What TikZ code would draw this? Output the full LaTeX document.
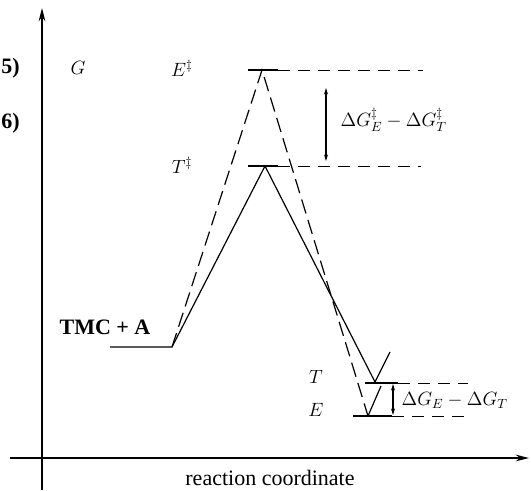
\documentclass[tikz,border=0pt]{standalone}
\usepackage{fontspec}
\setmainfont{Liberation Serif}
\usepackage{tikz}
\usetikzlibrary{arrows.meta, positioning}
\tikzset{
    axisline/.style={
        -{Stealth[length=10pt, width=5pt]}, line width=1pt, color=black
    },
    solidpath/.style={
        line width=0.9pt, color=black
    },
    dashpath/.style={
        line width=0.9pt, color=black, dash pattern=on 11pt off 5pt
    },
    levelline/.style={
        line width=0.7pt, color=black, dash pattern=on 9pt off 6pt
    },
    tickline/.style={
        line width=0.8pt, color=black
    },
    darr/.style={
        {Stealth[length=5pt, width=3pt]}-{Stealth[length=5pt, width=3pt]},
        line width=0.8pt, color=black
    },
    lbl/.style={
        font=\fontsize{14.5}{16}\selectfont, inner sep=1pt
    },
    txt/.style={
        font=\fontsize{16.5}{18}\selectfont, inner sep=1pt
    },
}

\begin{document}
\begin{tikzpicture}[x=0.75pt, y=-0.75pt]

    \useasboundingbox (0,0) rectangle (531,490);

    % ── Axes ──
    \coordinate (ybot) at (42,490);
    \coordinate (ytop) at (42,8);
    \coordinate (xleft) at (10,458);
    \coordinate (xright) at (529,458);
    \draw[axisline] (ybot) -- (ytop);
    \draw[axisline] (xleft) -- (xright);

    % ── Axis labels ──
    \node[txt, anchor=west, inner sep=0pt] (eq5) at (1,68) {\textbf{5)}};
    \node[txt, anchor=west, inner sep=0pt] (eq6) at (1,123) {\textbf{6)}};
    \node[lbl] (glabel) at (78,68) {$G$};
    \node[txt] (xlabel) at (270,478) {reaction coordinate};

    % ── Profile points ──
    \coordinate (start)  at (110,347);
    \coordinate (rise)   at (172,347);
    \coordinate (etop)   at (262,70);
    \coordinate (ttop)   at (265,166);
    \coordinate (tmin)   at (375,382);
    \coordinate (tend)   at (390,352);
    \coordinate (emin)   at (368,416);
    \coordinate (eend)   at (381,386);

    % ── Profiles ──
    \draw[solidpath] (start) -- (rise) -- (ttop) -- (tmin) -- (tend);
    \draw[dashpath] (rise) -- (etop) -- (emin);
    \draw[solidpath] (emin) -- (eend);

    % ── Levels ──
    \coordinate (el) at (248,70);
    \coordinate (em) at (278,70);
    \coordinate (er) at (423,70);
    \coordinate (tl) at (248,166);
    \coordinate (tm) at (278,166);
    \coordinate (tr) at (421,166);
    \draw[tickline] (el) -- (em);
    \draw[levelline] (em) -- (er);
    \draw[tickline] (tl) -- (tm);
    \draw[levelline] (tm) -- (tr);

    \coordinate (tml) at (365,383);
    \coordinate (tmm) at (398,383);
    \coordinate (tmr) at (468,383);
    \coordinate (eml) at (353,416);
    \coordinate (emm) at (392,416);
    \coordinate (emr) at (469,416);
    \draw[tickline] (tml) -- (tmm);
    \draw[levelline] (tmm) -- (tmr);
    \draw[tickline] (eml) -- (emm);
    \draw[levelline] (emm) -- (emr);

    % ── Level labels ──
    \node[lbl] (ets) at (182,68) {$E^\ddagger$};
    \node[lbl] (tts) at (182,165) {$T^\ddagger$};
    \node[txt] (reac) at (105,327) {\textbf{TMC + A}};
    \node[lbl] (tlab) at (316,377) {$T$};
    \node[lbl] (elab) at (316,410) {$E$};

    % ── Differences ──
    \coordinate (da1) at (326,88);
    \coordinate (da2) at (326,161);
    \draw[darr] (da1) -- (da2);
    \node[lbl, anchor=west] (dgts) at (339,120)
        {$\Delta G^\ddagger_E - \Delta G^\ddagger_T$};

    \coordinate (db1) at (393,384);
    \coordinate (db2) at (393,415);
    \draw[darr] (db1) -- (db2);
    \node[lbl, anchor=west] (dg) at (400,400) {$\Delta G_E - \Delta G_T$};

\end{tikzpicture}
\end{document}
